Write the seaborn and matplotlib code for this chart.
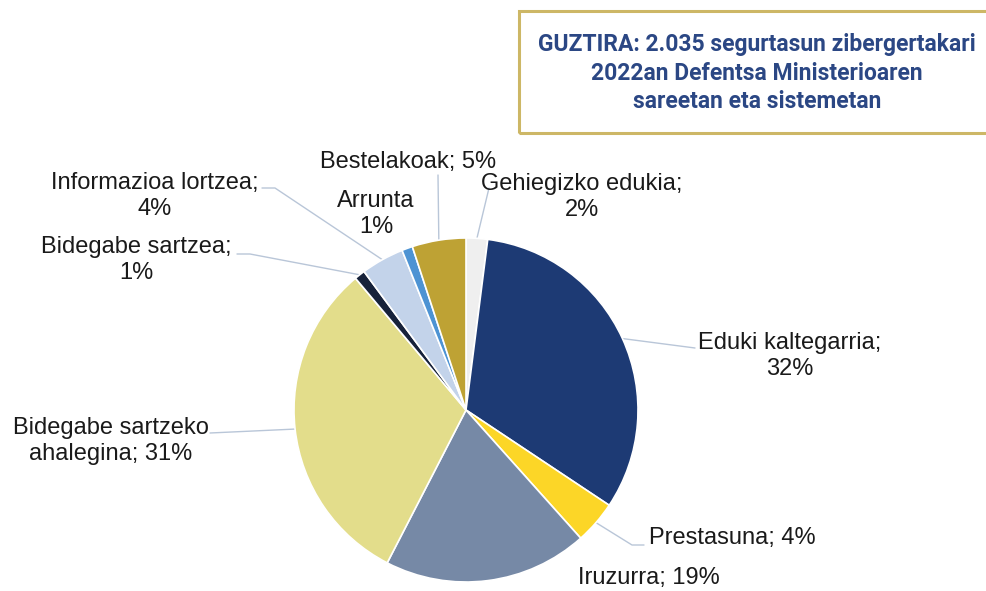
import numpy as np
import matplotlib
matplotlib.use("Agg")
import matplotlib.pyplot as plt
import seaborn as sns

# Incident categories, clockwise from 12 o'clock
categories = [
    "Gehiegizko edukia", "Eduki kaltegarria", "Prestasuna", "Iruzurra",
    "Bidegabe sartzeko ahalegina", "Bidegabe sartzea", "Informazioa lortzea",
    "Arrunta", "Bestelakoak",
]
shares = [2, 32, 4, 19, 31, 1, 4, 1, 5]
label_texts = [
    "Gehiegizko edukia;\n{}%", "Eduki kaltegarria;\n{}%", "Prestasuna; {}%",
    "Iruzurra; {}%", "Bidegabe sartzeko\nahalegina; {}%", "Bidegabe sartzea;\n{}%",
    "Informazioa lortzea;\n{}%", "Arrunta\n{}%", "Bestelakoak; {}%",
]
slice_colors = [
    "#efefef", "#1d3a74", "#fcd627", "#7689a6", "#e3dd8b",
    "#17223a", "#c3d3ea", "#4d93d3", "#bea234",
]
title_text = ("GUZTIRA: 2.035 segurtasun zibergertakari\n"
              "2022an Defentsa Ministerioaren\n"
              "sareetan eta sistemetan")

sns.set_theme(style="white")
plt.rcParams["font.family"] = ["Liberation Sans", "DejaVu Sans"]

W, H = 987, 591
fig = plt.figure(figsize=(W / 100, H / 100), dpi=100)
ax = fig.add_axes([0, 0, 1, 1])

cx, cy, r = 466, H - 410, 172
wedges, _ = ax.pie(
    shares, colors=slice_colors, startangle=90, counterclock=False,
    center=(cx, cy), radius=r, frame=True,
    wedgeprops=dict(edgecolor="white", linewidth=1.2),
)
ax.set_xlim(0, W)
ax.set_ylim(0, H)
ax.set_aspect("equal")
ax.axis("off")

# label text centre (pixels from top-left) and the point where its leader starts
placements = {
    "Gehiegizko edukia": ((582, 197), (489, 188)),
    "Eduki kaltegarria": ((790, 356), (695, 348)),
    "Prestasuna": ((732, 538), (644, 545)),
    "Iruzurra": ((649, 578), None),
    "Bidegabe sartzeko ahalegina": ((111, 441), (210, 433)),
    "Bidegabe sartzea": ((136, 260), (237, 254)),
    "Informazioa lortzea": ((155, 196), (262, 188)),
    "Arrunta": ((376, 214), None),
    "Bestelakoak": ((408, 162), (438, 175)),
}
elbows = {
    "Bidegabe sartzea": (250, 254),
    "Informazioa lortzea": (275, 188),
    "Prestasuna": (632, 545),
}

line_color = "#b9c6d8"
for w, cat, txt, val in zip(wedges, categories, label_texts, shares):
    (tx, ty), start = placements[cat]
    ax.text(tx, H - ty, txt.format(val), ha="center", va="center",
            fontsize=17, color="#1a1a1a", linespacing=1.25)
    if start is None:
        continue
    theta = np.deg2rad((w.theta1 + w.theta2) / 2)
    ex = cx + r * np.cos(theta)
    ey = cy + r * np.sin(theta)
    xs = [start[0]]
    ys = [H - start[1]]
    if cat in elbows:
        xs.append(elbows[cat][0])
        ys.append(H - elbows[cat][1])
    xs.append(ex)
    ys.append(ey)
    ax.plot(xs, ys, color=line_color, lw=1.0, zorder=0)

# title box
ax.text(757, H - 73, title_text, ha="center", va="center",
        fontsize=16.5, fontweight="bold", color="#2b4784",
        family=["Roboto", "DejaVu Sans"], linespacing=1.33)
ax.add_patch(plt.Rectangle((519, H - 133), 480, 122, fill=False,
                           edgecolor="#cdb766", lw=2.2, clip_on=True))

fig.savefig("out.png", dpi=100, facecolor="white")
